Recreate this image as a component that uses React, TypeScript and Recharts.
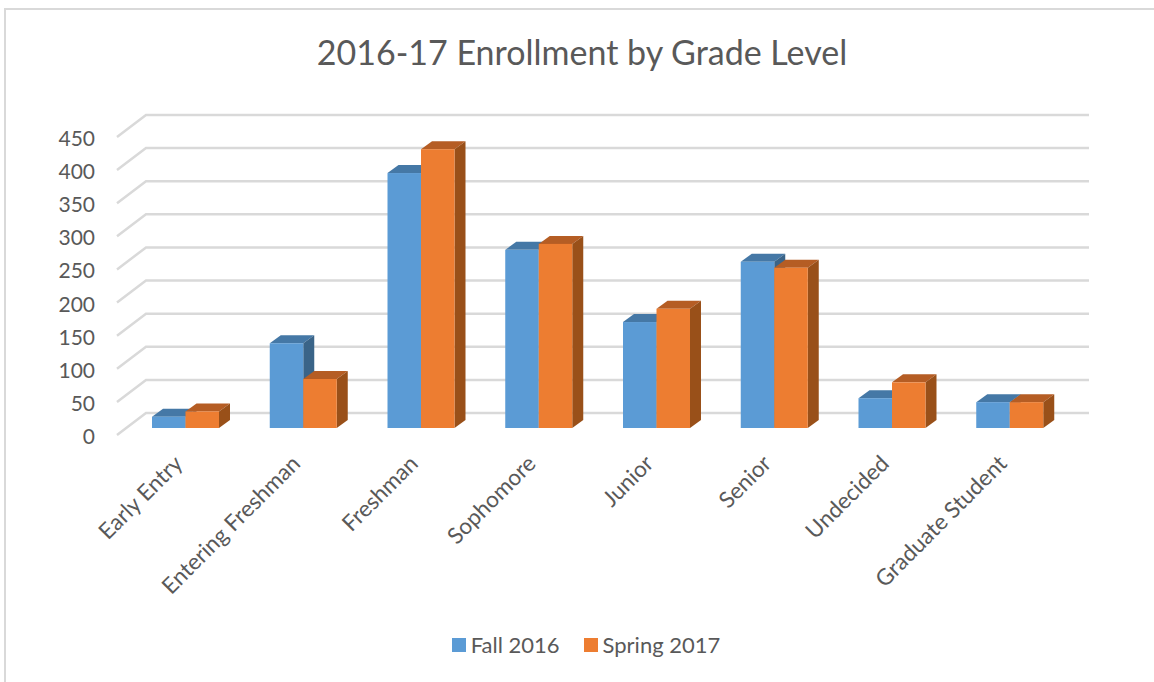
import { Bar, BarChart, CartesianGrid, Legend, XAxis, YAxis } from 'recharts';

const categories = ['Early Entry', 'Entering Freshman', 'Freshman', 'Sophomore', 'Junior', 'Senior', 'Undecided', 'Graduate Student'];
const fall2016 = [17, 128, 385, 269, 160, 251, 45, 39];
const spring2017 = [25, 74, 421, 278, 180, 242, 69, 39];
const yTicks = [0, 50, 100, 150, 200, 250, 300, 350, 400, 450];

const data = categories.map((name, i) => ({ name, fall: fall2016[i], spring: spring2017[i] }));

const FONT = 'Lato, sans-serif';
const TEXT = '#595959';
const DEPTH_X = 11;
const DEPTH_Y = 8;

// front face plus the two faces that fake the 3D look
function box3d(front: string, top: string, side: string) {
  return (props: any) => {
    const { x, y, width, height } = props;
    const r = x + width;
    const b = y + height;
    return (
      <g>
        <polygon points={`${x},${y} ${x + DEPTH_X},${y - DEPTH_Y} ${r + DEPTH_X},${y - DEPTH_Y} ${r},${y}`} fill={top} />
        <polygon points={`${r},${y} ${r + DEPTH_X},${y - DEPTH_Y} ${r + DEPTH_X},${b - DEPTH_Y} ${r},${b}`} fill={side} />
        <rect x={x} y={y} width={width} height={height} fill={front} />
      </g>
    );
  };
}

function gridLine(props: any) {
  const { x1, x2, y1 } = props;
  return (
    <polyline
      key={`grid-${y1}`}
      points={`${x1 - 10},${y1 + 7} ${x1 + 19},${y1 - 15} ${x2 + 20},${y1 - 15}`}
      fill="none"
      stroke="#d9d9d9"
      strokeWidth={2.5}
    />
  );
}

function YTick({ x, y, payload }: any) {
  return (
    <text x={x - 24} y={y + 9} dy={7} textAnchor="end" fontSize={21} fontFamily={FONT} fill={TEXT}>
      {payload.value}
    </text>
  );
}

function XTick({ x, y, payload }: any) {
  const tx = x - 2;
  const ty = y + 31;
  return (
    <text
      x={tx}
      y={ty}
      textAnchor="end"
      fontSize={22.5}
      fontFamily={FONT}
      fill={TEXT}
      transform={`rotate(-45 ${tx} ${ty})`}
    >
      {payload.value}
    </text>
  );
}

function LegendRow({ payload }: any) {
  return (
    <div style={{ display: 'flex', justifyContent: 'center', gap: 24, fontFamily: FONT, fontSize: 22, color: TEXT, lineHeight: '28px' }}>
      {(payload || []).map((item: any) => (
        <div key={item.value} style={{ display: 'flex', alignItems: 'center', gap: 5 }}>
          <span style={{ width: 14, height: 14, background: item.color, display: 'inline-block' }} />
          {item.value}
        </div>
      ))}
    </div>
  );
}

export default function App() {
  return (
    <div style={{ position: 'absolute', left: 0, top: 0, width: 1154, height: 682, overflow: 'hidden', background: '#fff' }}>
      <div style={{ position: 'absolute', left: 4, top: 8, width: 1170, height: 700, border: '2px solid #d9d9d9' }} />
      <div style={{ position: 'absolute', left: 0, top: 0 }}>
        <BarChart
          width={1154}
          height={682}
          data={data}
          barSize={33.5}
          barGap={0}
          margin={{ top: 130, right: 85, bottom: 134, left: 67 }}
        >
          <CartesianGrid horizontal={gridLine} vertical={false} />
          <XAxis dataKey="name" height={120} interval={0} axisLine={false} tickLine={false} tickMargin={0} tick={<XTick />} />
          <YAxis width={60} domain={[0, 450]} ticks={yTicks} axisLine={false} tickLine={false} tick={<YTick />} />
          <Legend
            layout="horizontal"
            verticalAlign="middle"
            align="center"
            content={<LegendRow />}
            wrapperStyle={{ top: 631, left: 0, width: 1172 }}
          />
          <Bar dataKey="fall" name="Fall 2016" fill="#5B9BD5" shape={box3d('#5B9BD5', '#4578A6', '#3A6488')} isAnimationActive={false} />
          <Bar dataKey="spring" name="Spring 2017" fill="#ED7D31" shape={box3d('#ED7D31', '#B55D24', '#995019')} isAnimationActive={false} />
          <text x={582} y={65} textAnchor="middle" fontSize={34} fontFamily={FONT} fill={TEXT}>
            2016-17 Enrollment by Grade Level
          </text>
        </BarChart>
      </div>
    </div>
  );
}
